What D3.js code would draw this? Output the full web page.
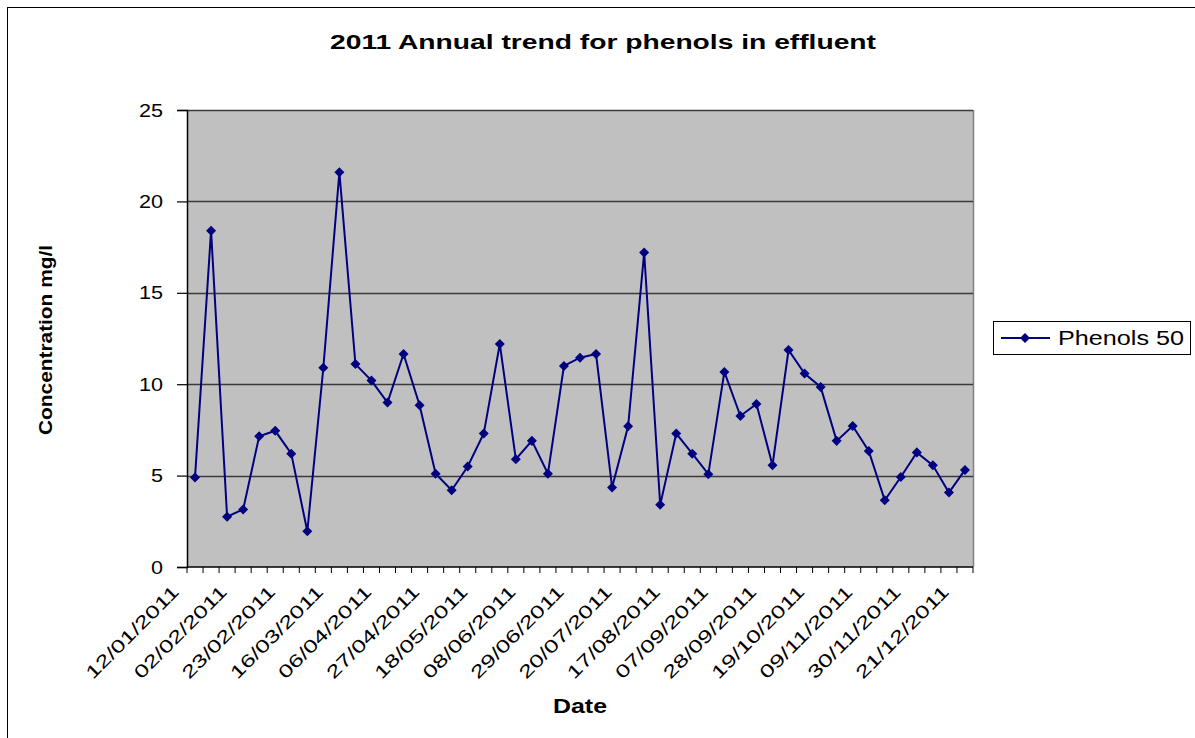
<!DOCTYPE html>
<html>
<head>
<meta charset="utf-8">
<script src="https://cdn.jsdelivr.net/npm/d3@7"></script>
<style>
  html, body { margin: 0; padding: 0; background: #fff; }
  svg { display: block; font-family: "Liberation Sans", Arial, sans-serif; }
</style>
</head>
<body>
<svg id="chart" width="1195" height="738"></svg>
<script>
// Weekly sample dates (2011)
const dates = [
  "12/01/2011", "19/01/2011", "26/01/2011", "02/02/2011", "09/02/2011", "16/02/2011",
  "23/02/2011", "02/03/2011", "09/03/2011", "16/03/2011", "23/03/2011", "30/03/2011",
  "06/04/2011", "13/04/2011", "20/04/2011", "27/04/2011", "04/05/2011", "11/05/2011",
  "18/05/2011", "25/05/2011", "01/06/2011", "08/06/2011", "15/06/2011", "22/06/2011",
  "29/06/2011", "06/07/2011", "13/07/2011", "20/07/2011", "27/07/2011", "03/08/2011",
  "17/08/2011", "24/08/2011", "31/08/2011", "07/09/2011", "14/09/2011", "21/09/2011",
  "28/09/2011", "05/10/2011", "12/10/2011", "19/10/2011", "26/10/2011", "02/11/2011",
  "09/11/2011", "16/11/2011", "23/11/2011", "30/11/2011", "07/12/2011", "14/12/2011",
  "21/12/2011"
];

// Phenol concentration (mg/l)
const phenols = [
  4.9, 18.4, 2.75, 3.15, 7.15, 7.45, 6.2, 1.95, 10.9, 21.6,
  11.1, 10.2, 9.0, 11.65, 8.85, 5.1, 4.2, 5.5, 7.3, 12.2,
  5.9, 6.9, 5.1, 11.0, 11.45, 11.65, 4.35, 7.7, 17.2, 3.4,
  7.3, 6.2, 5.08, 10.67, 8.26, 8.92, 5.56, 11.87, 10.58, 9.85,
  6.9, 7.71, 6.35, 3.65, 4.92, 6.27, 5.56, 4.07, 5.31
];

// Every third date is labelled on the axis
const dateLabels = dates.filter((d, i) => i % 3 === 0);

const yTicks = [0, 5, 10, 15, 20, 25];
const seriesName = "Phenols 50";
const titleText = "2011 Annual trend for phenols in effluent";

const svg = d3.select("#chart");
const plot = { left: 187, right: 973, top: 110, bottom: 567 };

// Outer chart frame
svg.append("rect")
  .attr("x", 7.5).attr("y", 7.5)
  .attr("width", 1200).attr("height", 760)
  .attr("fill", "#fff").attr("stroke", "#000").attr("stroke-width", 1);

const x = d3.scaleBand().domain(dates).range([plot.left, plot.right]).padding(0);
const y = d3.scaleLinear().domain([0, 25]).range([plot.bottom, plot.top]);
const cx = d => x(d) + x.bandwidth() / 2;

// Plot area background
svg.append("rect")
  .attr("x", plot.left).attr("y", plot.top)
  .attr("width", plot.right - plot.left).attr("height", plot.bottom - plot.top)
  .attr("fill", "#c0c0c0");

// Right edge of the plot area
svg.append("line")
  .attr("x1", plot.right + 0.5).attr("x2", plot.right + 0.5)
  .attr("y1", plot.top).attr("y2", plot.bottom)
  .attr("stroke", "#808080").attr("stroke-width", 1.5);

// Horizontal gridlines
svg.append("g").selectAll("line")
  .data(yTicks.filter(t => t > 0))
  .join("line")
  .attr("x1", plot.left).attr("x2", plot.right)
  .attr("y1", d => Math.round(y(d)) + 0.5).attr("y2", d => Math.round(y(d)) + 0.5)
  .attr("stroke", "#3a3a3a").attr("stroke-width", 1.3);

// Y axis
const yAxis = svg.append("g")
  .attr("transform", `translate(${plot.left},0)`)
  .call(d3.axisLeft(y).tickValues(yTicks).tickSize(10).tickPadding(14).tickFormat(d3.format("d")));
yAxis.select(".domain").attr("stroke", "#000").attr("stroke-width", 1.5);
yAxis.selectAll(".tick line").attr("stroke", "#000").attr("stroke-width", 1.2);
yAxis.selectAll(".tick text")
  .attr("font-size", 19).attr("fill", "#000")
  .attr("font-family", "'Liberation Sans', Arial, sans-serif")
  .attr("textLength", d => String(d).length * 12)
  .attr("lengthAdjust", "spacingAndGlyphs");

// X axis baseline
svg.append("line")
  .attr("x1", plot.left).attr("x2", plot.right)
  .attr("y1", plot.bottom).attr("y2", plot.bottom)
  .attr("stroke", "#000").attr("stroke-width", 1.5);

// Tick marks at category boundaries
const boundaries = dates.map(d => x(d)).concat([x(dates[dates.length - 1]) + x.bandwidth()]);
svg.append("g").selectAll("line")
  .data(boundaries)
  .join("line")
  .attr("x1", d => d).attr("x2", d => d)
  .attr("y1", plot.bottom).attr("y2", plot.bottom + 6)
  .attr("stroke", "#000").attr("stroke-width", 1);

// Rotated date labels
svg.append("g").selectAll("text")
  .data(dateLabels)
  .join("text")
  .attr("transform", d => `translate(${cx(d) - 15},${plot.bottom + 26}) rotate(-45)`)
  .attr("text-anchor", "end")
  .attr("font-size", 18)
  .attr("fill", "#000")
  .attr("textLength", 123)
  .attr("lengthAdjust", "spacingAndGlyphs")
  .text(d => d);

// Series line
const line = d3.line()
  .x((d, i) => cx(dates[i]))
  .y(d => y(d));

svg.append("path")
  .datum(phenols)
  .attr("d", line)
  .attr("fill", "none")
  .attr("stroke", "#000080")
  .attr("stroke-width", 2);

// Diamond markers
const diamond = d3.symbol().type(d3.symbolDiamond2).size(64);
svg.append("g").selectAll("path")
  .data(phenols)
  .join("path")
  .attr("transform", (d, i) => `translate(${cx(dates[i])},${y(d)})`)
  .attr("d", diamond)
  .attr("fill", "#000080");

// Title
svg.append("text")
  .attr("x", 603).attr("y", 49)
  .attr("text-anchor", "middle")
  .attr("font-size", 21).attr("font-weight", "bold")
  .attr("textLength", 546)
  .attr("lengthAdjust", "spacingAndGlyphs")
  .text(titleText);

// Axis titles
svg.append("text")
  .attr("x", 580).attr("y", 713)
  .attr("text-anchor", "middle")
  .attr("font-size", 20).attr("font-weight", "bold")
  .attr("textLength", 54)
  .attr("lengthAdjust", "spacingAndGlyphs")
  .text("Date");

svg.append("text")
  .attr("transform", "translate(52,340) rotate(-90)")
  .attr("text-anchor", "middle")
  .attr("font-size", 18).attr("font-weight", "bold")
  .attr("textLength", 190)
  .attr("lengthAdjust", "spacingAndGlyphs")
  .text("Concentration mg/l");

// Legend
const legend = svg.append("g").attr("transform", "translate(993,321)");
legend.append("rect")
  .attr("x", 0.5).attr("y", 0.5).attr("width", 197).attr("height", 33)
  .attr("fill", "#fff").attr("stroke", "#000").attr("stroke-width", 1);
legend.append("line")
  .attr("x1", 8).attr("x2", 57).attr("y1", 17).attr("y2", 17)
  .attr("stroke", "#000080").attr("stroke-width", 2);
legend.append("path")
  .attr("transform", "translate(32,17)")
  .attr("d", diamond)
  .attr("fill", "#000080");
legend.append("text")
  .attr("x", 65).attr("y", 24)
  .attr("font-size", 20)
  .attr("fill", "#000")
  .attr("textLength", 126)
  .attr("lengthAdjust", "spacingAndGlyphs")
  .text(seriesName);
</script>
</body>
</html>
